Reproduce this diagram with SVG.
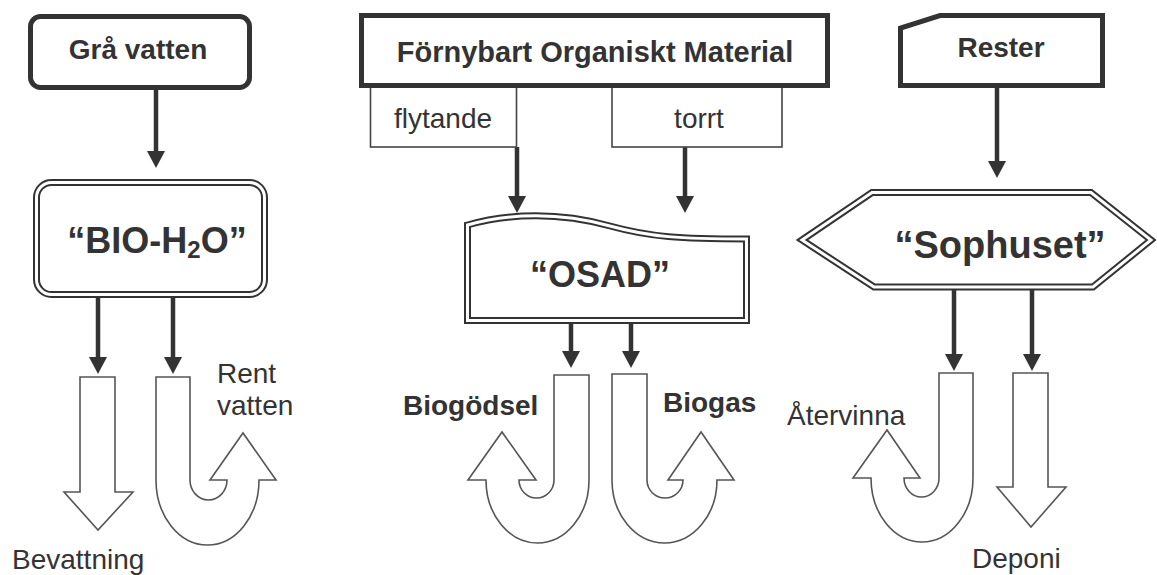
<svg xmlns="http://www.w3.org/2000/svg" width="1157" height="575" viewBox="0 0 1157 575">
<style>
text{font-family:"Liberation Sans",Arial,sans-serif;fill:#333}
.lbl{font-size:28px}
.b{font-weight:bold}
.big{font-size:36px;font-weight:bold}
.thick{fill:#fff;stroke:#333;stroke-width:5}
.thin{fill:#fff;stroke:#444;stroke-width:1.6}
.dbl-o{fill:#fff;stroke:#333;stroke-width:7}
.dbl-i{fill:none;stroke:#fff;stroke-width:3}
.blk{fill:#fff;stroke:#555;stroke-width:1.6;stroke-linejoin:miter}
.con{stroke:#333;stroke-width:4.5;fill:none;marker-end:url(#ah)}
</style>
<defs>
<marker id="ah" markerUnits="userSpaceOnUse" markerWidth="18" markerHeight="18" refX="7" refY="9" orient="auto" viewBox="0 0 18 18">
<path d="M0,0 L17,9 L0,18 Z" fill="#333"/>
</marker>
</defs>
<rect width="1157" height="575" fill="#fff"/>

<g id="connectors">
<line class="con" x1="156" y1="90" x2="156" y2="158"/>
<line class="con" x1="517" y1="147" x2="517" y2="203"/>
<line class="con" x1="685" y1="147" x2="685" y2="203"/>
<line class="con" x1="997" y1="88" x2="997" y2="168"/>
<line class="con" x1="98" y1="296" x2="98" y2="364"/>
<line class="con" x1="173" y1="296" x2="173" y2="364"/>
<line class="con" x1="571" y1="322" x2="571" y2="358"/>
<line class="con" x1="631" y1="322" x2="631" y2="358"/>
<line class="con" x1="954" y1="288" x2="954" y2="361"/>
<line class="con" x1="1032" y1="288" x2="1032" y2="361"/>
</g>

<g id="gra-vatten">
<rect class="thick" x="30.5" y="16.5" width="219" height="71" rx="10"/>
<text class="lbl b" x="138" y="59" text-anchor="middle">Grå vatten</text>
</g>

<g id="flytande">
<rect class="thin" x="370.5" y="86" width="146" height="61"/>
<text class="lbl" x="443" y="128" text-anchor="middle">flytande</text>
</g>
<g id="torrt">
<rect class="thin" x="612" y="86" width="170" height="61"/>
<text class="lbl" x="699" y="128" text-anchor="middle">torrt</text>
</g>
<g id="fornybart">
<rect class="thick" x="361.5" y="15.5" width="466" height="70"/>
<text class="b" x="595" y="62" text-anchor="middle" style="font-size:29px">Förnybart Organiskt Material</text>
</g>

<g id="rester">
<path class="thick" d="M900.5,85.5 V28 L940,15.5 H1102.5 V85.5 Z"/>
<text class="lbl b" x="1001" y="57" text-anchor="middle">Rester</text>
</g>

<g id="bio-h2o">
<rect class="dbl-o" x="36.5" y="182.5" width="228" height="112" rx="15"/>
<rect class="dbl-i" x="36.5" y="182.5" width="228" height="112" rx="15"/>
<text class="big" x="157" y="253" text-anchor="middle">“BIO-H<tspan font-size="24" dy="5">2</tspan><tspan dy="-5">O”</tspan></text>
</g>

<g id="osad">
<path class="dbl-o" d="M467.5,225 C510,213 560,212 610,226 C650,237 680,239 746.5,239 V320.5 H467.5 Z"/>
<path class="dbl-i" d="M467.5,225 C510,213 560,212 610,226 C650,237 680,239 746.5,239 V320.5 H467.5 Z"/>
<text class="big" x="600" y="287" text-anchor="middle">“OSAD”</text>
</g>

<g id="sophuset">
<path class="dbl-o" d="M802,240 L872,192.5 H1091 L1151,240 L1093,287 H874 Z"/>
<path class="dbl-i" d="M802,240 L872,192.5 H1091 L1151,240 L1093,287 H874 Z"/>
<text class="b" x="1000" y="258" text-anchor="middle" style="font-size:38px">“Sophuset”</text>
</g>

<g id="bevattning">
<path class="blk" d="M80,377 H115 V492 H133 L98,530 L64,492 H80 Z"/>
<text class="lbl" x="12" y="569">Bevattning</text>
</g>

<g id="rent-vatten">
<path class="blk" d="M156,377 H190 V480 A18.5,20 0 0 0 227,480 H210 L243,433 L276,480 H259 A51.5,65 0 0 1 156,480 Z"/>
<text class="lbl" x="217" y="383">Rent</text>
<text class="lbl" x="217" y="415">vatten</text>
</g>

<g id="biogodsel">
<path class="blk" d="M554,375 H589 V480 A51.5,63 0 0 1 486,480 H468 L502,432 L536,480 H519 A17.5,18 0 0 0 554,480 Z"/>
<text class="lbl b" x="403" y="415">Biogödsel</text>
</g>

<g id="biogas">
<path class="blk" d="M612,374 H647 V480 A18,18 0 0 0 683,480 H668 L701,432 L734,480 H717 A52.5,63 0 0 1 612,480 Z"/>
<text class="lbl b" x="663" y="412">Biogas</text>
</g>

<g id="atervinna">
<path class="blk" d="M939,373 H973 V478 A51,64 0 0 1 871,478 H853 L887,430 L920,478 H904 A17.5,19 0 0 0 939,478 Z"/>
<text class="lbl" x="787" y="425">Återvinna</text>
</g>

<g id="deponi">
<path class="blk" d="M1013,373 H1048 V487 H1066 L1031,527 L997,487 H1013 Z"/>
<text class="lbl" x="972" y="568">Deponi</text>
</g>
</svg>
